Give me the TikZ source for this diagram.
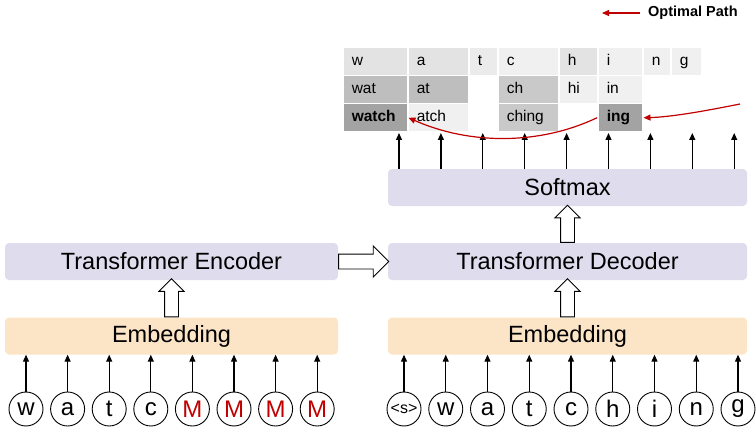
\documentclass[tikz,border=0pt]{standalone}
\usepackage{fontspec}
\setmainfont{Liberation Sans}
\usetikzlibrary{arrows.meta,shapes.arrows}

\definecolor{lavender}{HTML}{DFDDED}
\definecolor{peach}{HTML}{FCE4C7}
\definecolor{pathred}{HTML}{C00000}
\definecolor{gA}{HTML}{E3E3E3}
\definecolor{gB}{HTML}{EBEBEB}
\definecolor{gC}{HTML}{F0F0F0}
\definecolor{gD}{HTML}{BEBEBE}
\definecolor{gE}{HTML}{C9C9C9}
\definecolor{gF}{HTML}{A3A3A3}

\tikzset{
  block/.style={rounded corners=4pt, inner sep=0pt, minimum height=37pt, font=\fontsize{23.5}{28}\selectfont},
  tok/.style={circle, draw, line width=0.9pt, minimum size=34pt, inner sep=0pt, font=\fontsize{24}{28}\selectfont},
  up/.style={line width=1.2pt, -{Triangle[length=7pt,width=6pt]}},
  hollow/.style={single arrow, draw, fill=white, line width=0.9pt, inner xsep=0pt, anchor=tail},
  cell/.style={anchor=north west, text width=#1, inner xsep=9pt, inner ysep=0pt, text height=11pt, text depth=3.5pt, minimum height=28pt, draw=white, line width=1.5pt, align=left, font=\fontsize{15.5}{18}\selectfont},
  redpath/.style={draw=pathred, line width=1.2pt, -{Triangle[length=7pt,width=6pt]}}
}

\begin{document}
\begin{tikzpicture}[x=1pt,y=-1pt]
    \useasboundingbox (0,0) rectangle (756,428);

    % blocks
    \node[block, fill=lavender, minimum width=333pt] (enc) at (171.5,261.5) {Transformer Encoder};
    \node[block, fill=peach, minimum width=333pt] (embL) at (171.5,336) {Embedding};
    \node[block, fill=lavender, minimum width=359pt] (dec) at (567.5,261.5) {Transformer Decoder};
    \node[block, fill=peach, minimum width=359pt] (embR) at (567.5,336) {Embedding};
    \node[block, fill=lavender, minimum width=359pt] (soft) at (567.5,187.5) {Softmax};

    % hollow arrows between blocks
    \node[hollow, inner ysep=7pt, single arrow head extend=8pt, minimum height=50pt] (h1) at (enc.east) {};
    \node[hollow, rotate=90, inner ysep=6.5pt, single arrow head extend=5.5pt, minimum height=38pt] (h2) at (embL.north) {};
    \node[hollow, rotate=90, inner ysep=6.5pt, single arrow head extend=5.5pt, minimum height=38pt] (h3) at (embR.north) {};
    \node[hollow, rotate=90, inner ysep=6.5pt, single arrow head extend=5.5pt, minimum height=37pt] (h4) at (dec.north) {};

    % encoder input
    \foreach \ch [count=\i] in {w,a,t,c,{\color{pathred}M},{\color{pathred}M},{\color{pathred}M},{\color{pathred}M}} {
        \node[tok] (x\i) at ({26+41.6*(\i-1)},409) {\ch};
        \draw[up] (x\i.north) -- (x\i.north |- embL.south);
    }
    % decoder input
    \foreach \ch [count=\i] in {{\fontsize{16}{18}\selectfont<s>},w,a,t,c,h,i,n,g} {
        \node[tok] (y\i) at ({404+41.75*(\i-1)},409) {\ch};
        \draw[up] (y\i.north) -- (y\i.north |- embR.south);
    }
    % softmax outputs
    \foreach \i in {1,...,9} {
        \coordinate (o\i) at ({399+41.9*(\i-1)},133);
        \draw[up] (o\i |- soft.north) -- (o\i);
    }

    % table of pieces
    \node[cell=47pt, fill=gA] (c11) at (342,47) {w};
    \node[cell=43pt, fill=gA] (c12) at (407,47) {a};
    \node[cell=11pt, fill=gB] (c13) at (468,47) {t};
    \node[cell=43pt, fill=gC] (c14) at (497,47) {c};
    \node[cell=21pt, fill=gA] (c15) at (558,47) {h};
    \node[cell=27pt, fill=gC] (c16) at (597,47) {i};
    \node[cell=10pt, fill=gC] (c17) at (642,47) {n};
    \node[cell=13pt, fill=gC] (c18) at (670,47) {g};
    \node[cell=47pt, fill=gD] (c21) at (342,75) {wat};
    \node[cell=43pt, fill=gD] (c22) at (407,75) {at};
    \node[cell=43pt, fill=gE] (c24) at (497,75) {ch};
    \node[cell=21pt, fill=gC] (c25) at (558,75) {hi};
    \node[cell=27pt, fill=gC] (c26) at (597,75) {in};
    \node[cell=47pt, fill=gF] (watch) at (342,103) {\textbf{watch}};
    \node[cell=43pt, fill=gC] (c32) at (407,103) {atch};
    \node[cell=43pt, fill=gE] (c34) at (497,103) {ching};
    \node[cell=27pt, fill=gF] (ing) at (597,103) {\textbf{ing}};

    % optimal path
    \coordinate (pstart) at (740,104);
    \draw[redpath] (pstart) .. controls (700,112) and (670,117) .. (ing.east);
    \draw[redpath] (ing.west) .. controls (540,145) and (470,145) .. (watch.east);

    % legend
    \node[anchor=west, inner sep=3pt, font=\fontsize{14.5}{17}\selectfont\bfseries] (lg) at (645,13) {Optimal Path};
    \draw[redpath] ([xshift=-5pt]lg.west) -- ([xshift=-43pt]lg.west);
\end{tikzpicture}
\end{document}
